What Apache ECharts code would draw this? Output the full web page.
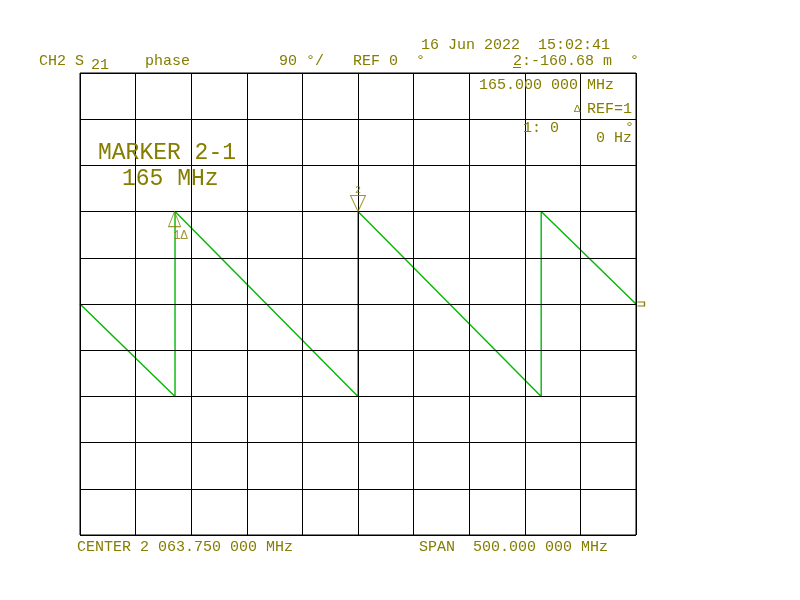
<!DOCTYPE html>
<html>
<head>
<meta charset="utf-8">
<script src="https://cdn.jsdelivr.net/npm/echarts@6/dist/echarts.min.js"></script>
<style>html,body{margin:0;padding:0;background:#fff;}#c{width:800px;height:600px;}</style>
</head>
<body>
<div id="c"></div>
<script>
// ---- data ----
const centerMHz = 2063.75;
const spanMHz = 500;
const refDeg = 0;
const degPerDiv = 90;
// phase trace breakpoints (frequency in MHz, phase in degrees)
const traceFreqMHz = [1813.75, 1899.2, 1899.2, 2063.75, 2063.75, 2228.5, 2228.5, 2313.75];
const tracePhaseDeg = [0, -180, 180, -180, 180, -180, 180, 0];
// markers
const markerFreqMHz = [1898.75, 2063.75];
const markerPhaseDeg = [180, 180];
const markerLabels = ['1\u0394', '2'];

const OL = '#857d00';
const GR = '#00b800';
const FONT = '"Liberation Mono", "DejaVu Sans Mono", monospace';

const half = spanMHz / 2;
const traceData = traceFreqMHz.map((f, i) => [f - centerMHz, tracePhaseDeg[i]]);

function txt(x, y, s, size, extra) {
  return Object.assign({
    type: 'text', x: x, y: y, z: 20,
    style: { text: s, fill: OL, font: size + 'px ' + FONT, verticalAlign: 'middle', align: 'left' }
  }, extra || {});
}

const chart = echarts.init(document.getElementById('c'), null, { renderer: 'canvas' });
chart.setOption({
  animation: false,
  backgroundColor: '#ffffff',
  grid: { left: 80, top: 73, width: 556, height: 462, show: true, borderColor: '#000', borderWidth: 1, z: 6 },
  xAxis: {
    type: 'value', min: -half, max: half, interval: spanMHz / 10, z: 5,
    axisLine: { show: false }, axisTick: { show: false }, axisLabel: { show: false },
    splitLine: { show: true, lineStyle: { color: '#000', width: 1 } }
  },
  yAxis: {
    type: 'value', min: refDeg - 5 * degPerDiv, max: refDeg + 5 * degPerDiv, interval: degPerDiv, z: 5,
    axisLine: { show: false }, axisTick: { show: false }, axisLabel: { show: false },
    splitLine: { show: true, lineStyle: { color: '#000', width: 1 } }
  },
  series: [
    {
      type: 'line', data: traceData, showSymbol: false, z: 2,
      lineStyle: { color: GR, width: 1.4 },
      markPoint: {
        z: 10,
        data: [{
          coord: [half, refDeg],
          symbol: 'path://M0,0 L8,0 L8,4 L0,4',
          symbolSize: [7, 4], symbolOffset: [5, 0],
          itemStyle: { color: 'rgba(0,0,0,0)', borderColor: OL, borderWidth: 1 },
          label: { show: false }
        }]
      }
    },
    {
      type: 'scatter', z: 10,
      data: [
        {
          value: [markerFreqMHz[0] - centerMHz, markerPhaseDeg[0]],
          symbol: 'triangle', symbolSize: [12, 15], symbolOffset: [0, 7.5],
          itemStyle: { color: 'rgba(0,0,0,0)', borderColor: OL, borderWidth: 1 },
          label: { show: true, formatter: markerLabels[0], position: 'bottom', distance: 3, color: OL, fontFamily: FONT, fontSize: 12, offset: [6, 0] }
        },
        {
          value: [markerFreqMHz[1] - centerMHz, markerPhaseDeg[1]],
          symbol: 'triangle', symbolRotate: 180, symbolSize: [15, 16], symbolOffset: [0, -8],
          itemStyle: { color: 'rgba(0,0,0,0)', borderColor: OL, borderWidth: 1 },
          label: { show: true, formatter: markerLabels[1], position: 'top', distance: 0, color: OL, fontFamily: FONT, fontSize: 10 }
        }
      ]
    }
  ],
  graphic: [
    txt(421, 45.5, '16 Jun 2022  15:02:41', 15),
    txt(39, 61.5, 'CH2 S', 15),
    txt(91, 65.5, '21', 15),
    txt(145, 61.5, 'phase', 15),
    txt(279, 61.5, '90 \u00b0/', 15),
    txt(353, 61.5, 'REF 0  \u00b0', 15),
    txt(513, 61.5, '2:-160.68 m  \u00b0', 15),
    { type: 'line', z: 20, shape: { x1: 513, y1: 67.5, x2: 521, y2: 67.5 }, style: { stroke: OL, lineWidth: 1 } },
    txt(479, 85, '165.000 000 MHz', 15),
    txt(574, 109, '\u0394', 11),
    txt(587, 109, 'REF=1', 15),
    txt(523, 128, '1: 0', 15),
    txt(625, 128, '\u00b0', 15),
    txt(596, 138.5, '0 Hz', 15),
    txt(98, 153, 'MARKER 2-1', 23),
    txt(122, 178.5, '165 MHz', 23),
    txt(77, 547.5, 'CENTER 2 063.750 000 MHz', 15),
    txt(419, 547.5, 'SPAN  500.000 000 MHz', 15)
  ]
});
</script>
</body>
</html>
